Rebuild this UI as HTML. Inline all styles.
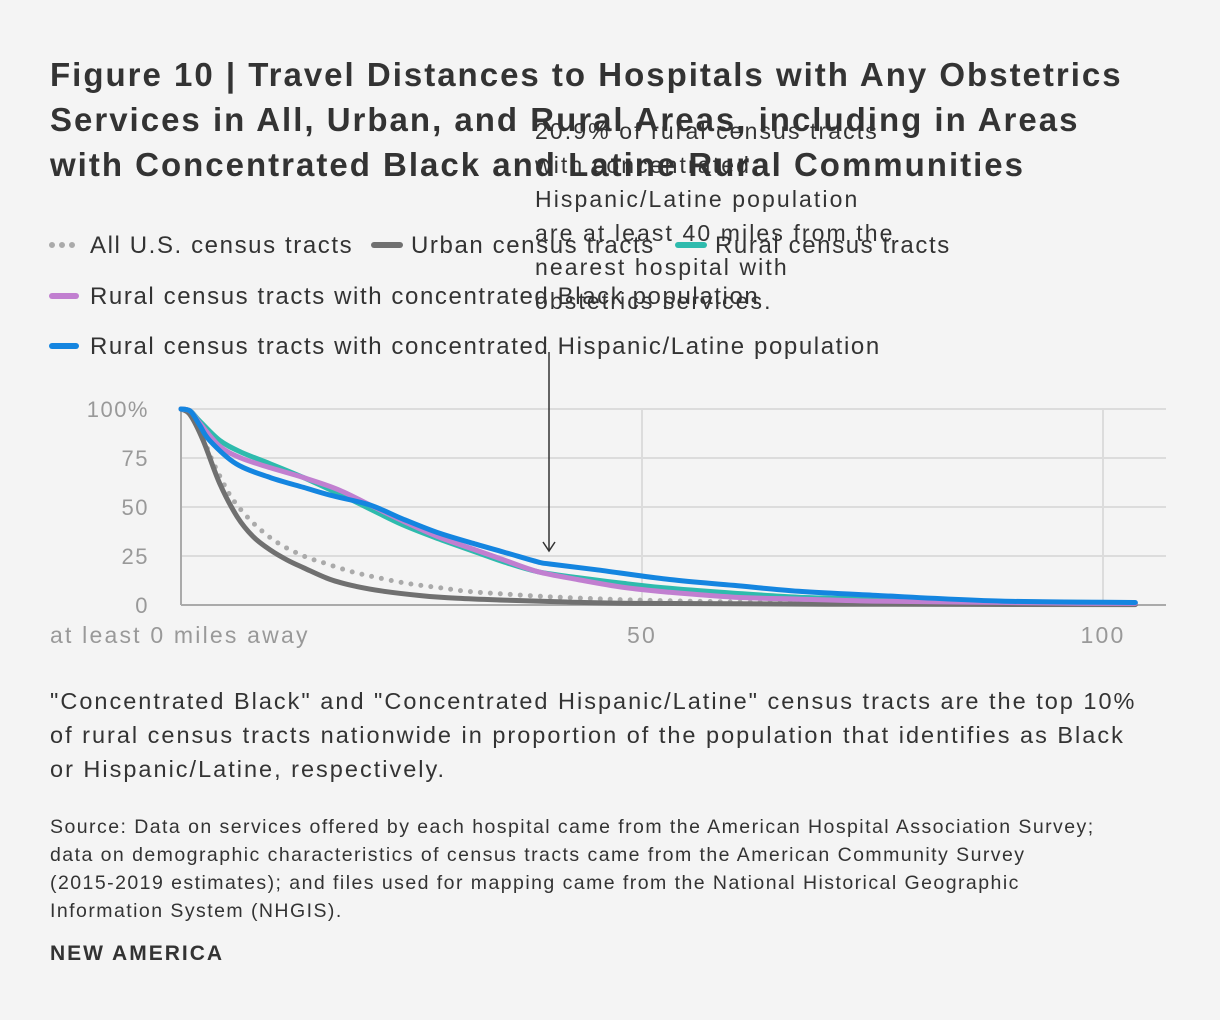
<!DOCTYPE html>
<html><head><meta charset="utf-8"><style>
body{margin:0;background:#f4f4f4;width:1220px;height:1020px;overflow:hidden;font-family:"Liberation Sans",sans-serif;color:#333;}
.t{position:absolute;white-space:nowrap;}
</style></head><body>
<div class="t" style="left:50px;top:52px;font-size:33px;letter-spacing:2px;font-weight:bold;line-height:45px;color:#333;">Figure 10 | Travel Distances to Hospitals with Any Obstetrics<br>Services in All, Urban, and Rural Areas, including in Areas<br>with Concentrated Black and Latine Rural Communities</div>

<div class="t" style="left:535px;top:114px;font-size:23px;letter-spacing:2.1px;line-height:34px;color:#333;">20.9% of rural census tracts<br>with concentrated<br>Hispanic/Latine population<br>are at least 40 miles from the<br>nearest hospital with<br>obstetrics services.</div>

<svg width="1220" height="1020" style="position:absolute;left:0;top:0">
<g font-size="24" letter-spacing="1.6" fill="#333" font-family="Liberation Sans, sans-serif">
 <g><line x1="52" y1="245" x2="76" y2="245" stroke="#aaa" stroke-width="6" stroke-linecap="round" stroke-dasharray="0 10"/><text x="90" y="253">All U.S. census tracts</text></g>
 <g><line x1="374" y1="245" x2="400" y2="245" stroke="#707070" stroke-width="6" stroke-linecap="round"/><text x="411" y="253">Urban census tracts</text></g>
 <g><line x1="678" y1="245" x2="704" y2="245" stroke="#2ebbad" stroke-width="6" stroke-linecap="round"/><text x="715" y="253">Rural census tracts</text></g>
 <g><line x1="52" y1="296" x2="76" y2="296" stroke="#c17fd0" stroke-width="6" stroke-linecap="round"/><text x="90" y="304">Rural census tracts with concentrated Black population</text></g>
 <g><line x1="52" y1="346" x2="76" y2="346" stroke="#1485e0" stroke-width="6" stroke-linecap="round"/><text x="90" y="354">Rural census tracts with concentrated Hispanic/Latine population</text></g>
</g>
<g id="grid"></g>
<g id="marks"></g>
<g stroke="#333" stroke-width="1.5" fill="none">
 <line x1="549" y1="352" x2="549" y2="551"/>
 <polyline points="543,542 549,551 555,542"/>
</g>
</svg>

<div class="t" style="left:50px;top:684px;font-size:23.5px;letter-spacing:2px;line-height:34px;color:#333;">"Concentrated Black" and "Concentrated Hispanic/Latine" census tracts are the top 10%<br>of rural census tracts nationwide in proportion of the population that identifies as Black<br>or Hispanic/Latine, respectively.</div>
<div class="t" style="left:50px;top:813px;font-size:19.5px;letter-spacing:1.45px;line-height:28px;color:#333;">Source: Data on services offered by each hospital came from the American Hospital Association Survey;<br>data on demographic characteristics of census tracts came from the American Community Survey<br>(2015-2019 estimates); and files used for mapping came from the National Historical Geographic<br>Information System (NHGIS).</div>
<div class="t" style="left:50px;top:942px;font-size:21px;letter-spacing:2px;font-weight:bold;color:#333;">NEW AMERICA</div>

<script>
const xTicks=[0,50,100];
const xTickLabels=["at least 0 miles away","50","100"];
const yTicks=[0,25,50,75,100];
const yTickLabels=["0","25","50","75","100%"];
const milesAll=[0,1,2,3.1,4.3,5.6,7.8,10.4,13.3,15.8,18.5,21.3,24.5,27.8,31,35,40,45,49.6,60,75,90,103.5];
const pctAll=[100,98,91,77,65,54,42,32,25,21,17,14,11,9,7,5.6,4.2,3.2,2.5,1.6,1,0.6,0.4];
const milesUrban=[0,1,2.4,4.2,6.1,7.8,9.7,11.5,13.3,16.2,19,22,26,30,35,42,50,70,103.5];
const pctUrban=[100,97,84,62,45,35,28,23,19,13,9.5,7,4.8,3.4,2.5,1.5,0.8,0.4,0.2];
const milesRural=[0,1,2,4.2,6.5,9.7,13.3,17,20.5,24,27.8,32,35,38.7,43,48,53,60,67,75,85,95,103.5];
const pctRural=[100,99,94,84,78,72,65,57,49,41,34,27,22,17,14,11,8.5,6,4,3,2,1.5,1];
const milesBlack=[0,1,2,4.2,6.5,9.7,13.3,17,20.5,24,27.8,32,35,38.7,43,48,53,60,67,75,85,95,103.5];
const pctBlack=[100,99,93,81,75,70,65,59,51,43,35,28,23,17,13,9,6.5,4,3,2,1.5,1,0.8];
const milesHisp=[0,1,2,3.1,6,9.7,13.3,16.2,20.5,24,27.8,32,35,38.7,40,45,53,60,67,75,89,103.5];
const pctHisp=[100,99,92,84,72,65,60,56,51,44,37,31,27,22,20.9,18,13,10,7,5,2,1.3];

const X=m=>181+m*9.22, Y=p=>605-p*1.96;
const NS="http://www.w3.org/2000/svg";
const grid=document.getElementById('grid'), marks=document.getElementById('marks');
function mk(tag,attrs,parent){const e=document.createElementNS(NS,tag);for(const k in attrs)e.setAttribute(k,attrs[k]);parent.appendChild(e);return e;}
yTicks.forEach((t,i)=>{
  const l=mk('line',{x1:181,x2:1166,y1:Y(t),y2:Y(t),stroke:t===0?'#aaa':'#dcdcdc','stroke-width':2},grid);
  
  
  const tx=mk('text',{x:149,y:Y(t)+8,'text-anchor':'end','font-size':22,'letter-spacing':1.5,fill:'#999','font-family':'Liberation Sans, sans-serif'},grid);
  tx.textContent=yTickLabels[i];
  
  
});
xTicks.forEach((t,i)=>{
  const l=mk('line',{x1:X(t),x2:X(t),y1:Y(100),y2:Y(0),stroke:t===0?'#aaa':'#dcdcdc','stroke-width':2},grid);
  
  
  const tx=mk('text',{x:t===0?50:X(t),y:643,'text-anchor':t===0?'start':'middle','font-size':23,'letter-spacing':2.2,fill:'#999','font-family':'Liberation Sans, sans-serif'},grid);
  tx.textContent=xTickLabels[i];
  
  
});
function smooth(pts){
  let d='M'+pts[0][0].toFixed(1)+','+pts[0][1].toFixed(1);
  for(let i=0;i<pts.length-1;i++){
    const p0=pts[i-1]||pts[i],p1=pts[i],p2=pts[i+1],p3=pts[i+2]||p2;
    const c1=[p1[0]+(p2[0]-p0[0])/6,p1[1]+(p2[1]-p0[1])/6];
    const c2=[p2[0]-(p3[0]-p1[0])/6,p2[1]-(p3[1]-p1[1])/6];
    c1[1]=Math.min(Math.max(c1[1],Math.min(p1[1],p2[1])),Math.max(p1[1],p2[1]));
    c2[1]=Math.min(Math.max(c2[1],Math.min(p1[1],p2[1])),Math.max(p1[1],p2[1]));
    d+=' C'+c1.map(v=>v.toFixed(1)).join(',')+' '+c2.map(v=>v.toFixed(1)).join(',')+' '+p2[0].toFixed(1)+','+p2[1].toFixed(1);
  }
  return d;
}
function series(ms,ps,color,dash,name){
  const d=smooth(ms.map((m,i)=>[X(m),Y(ps[i])]));
  const a={d:d,fill:'none',stroke:color,'stroke-width':5,'stroke-linecap':'round','stroke-linejoin':'round'};
  if(dash)a['stroke-dasharray']='0 10';
  const p=mk('path',a,marks);
  
  
}
series(milesAll,pctAll,'#aaa',true,'line-all-tracts');
series(milesUrban,pctUrban,'#707070',false,'line-urban-tracts');
series(milesRural,pctRural,'#2ebbad',false,'line-rural-tracts');
series(milesBlack,pctBlack,'#c17fd0',false,'line-rural-black');
series(milesHisp,pctHisp,'#1485e0',false,'line-rural-hispanic');
</script>
</body></html>
